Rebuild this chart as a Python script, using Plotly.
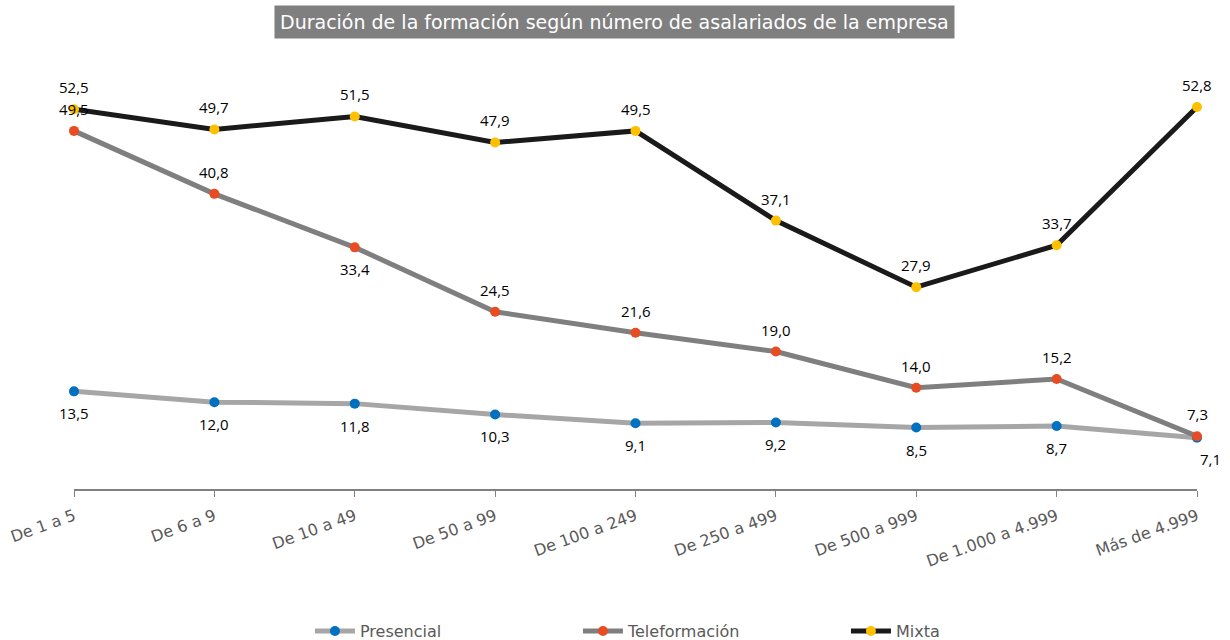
import plotly.graph_objects as go

# Data
categorias = ['De 1 a 5', 'De 6 a 9', 'De 10 a 49', 'De 50 a 99', 'De 100 a 249',
              'De 250 a 499', 'De 500 a 999', 'De 1.000 a 4.999', 'Más de 4.999']
presencial = [13.5, 12.0, 11.8, 10.3, 9.1, 9.2, 8.5, 8.7, 7.1]
teleformacion = [49.5, 40.8, 33.4, 24.5, 21.6, 19.0, 14.0, 15.2, 7.3]
mixta = [52.5, 49.7, 51.5, 47.9, 49.5, 37.1, 27.9, 33.7, 52.8]

# label side per point: 1 above, -1 below
lado_pres = [-1] * 9
lado_tele = [1, 1, -1, 1, 1, 1, 1, 1, 1]
lado_mixta = [1] * 9

x = list(range(len(categorias)))

def fmt(v):
    return f'{v:.1f}'.replace('.', ',')

fig = go.Figure()

series = [
    ('Presencial', presencial, '#A6A6A6', '#0070C0', lado_pres),
    ('Teleformación', teleformacion, '#7F7F7F', '#E84C22', lado_tele),
    ('Mixta', mixta, '#1A1A1A', '#FFC000', lado_mixta),
]

for name, vals, lc, mc, lado in series:
    fig.add_trace(go.Scatter(x=x, y=vals, name=name, mode='lines+markers',
                             line=dict(color=lc, width=5),
                             marker=dict(color=mc, size=10),
                             cliponaxis=False))

annotations = []
for name, vals, lc, mc, lado in series:
    for i, (v, s) in enumerate(zip(vals, lado)):
        xs = 0
        ys = 22 * s
        if name == 'Presencial' and i == len(vals) - 1:
            xs = 13
            ys = -21
        annotations.append(dict(x=x[i], y=v, text=fmt(v), showarrow=False,
                                xshift=xs, yshift=ys,
                                font=dict(family='Open Sans', size=15, color='#000000')))

annotations.append(dict(xref='paper', yref='paper', x=0.4813, y=1.0886,
                        xanchor='center', yanchor='middle', showarrow=False,
                        text='Duración de la formación según número de asalariados de la empresa',
                        bgcolor='#7F7F7F', borderpad=5,
                        font=dict(family='DejaVu Sans', size=19, color='#FFFFFF')))

fig.update_layout(
    width=1230, height=640,
    paper_bgcolor='white', plot_bgcolor='white',
    margin=dict(l=74, r=33, t=60, b=151),
    annotations=annotations,
    showlegend=True,
    legend=dict(orientation='h', xref='container', x=0.252, xanchor='left',
                yref='container', y=0.014, yanchor='middle',
                font=dict(family='DejaVu Sans', size=16, color='#595959'),
                entrywidth=213, itemwidth=40),
    xaxis=dict(tickvals=x, ticktext=categorias, range=[0, 8], tickangle=-20,
               automargin=False, ticklabelstandoff=4,
               showgrid=False, zeroline=False, showline=True, linecolor='#808080',
               linewidth=1.5, ticks='outside', ticklen=6, tickcolor='#808080',
               tickfont=dict(family='DejaVu Sans', size=16, color='#595959')),
    yaxis=dict(range=[0, 59.3], visible=False, automargin=False),
)

# remove the default body margin so the figure fills the window
fig.write_html('out.html', config={'displayModeBar': False},
               post_script="document.body.style.margin='0';")
